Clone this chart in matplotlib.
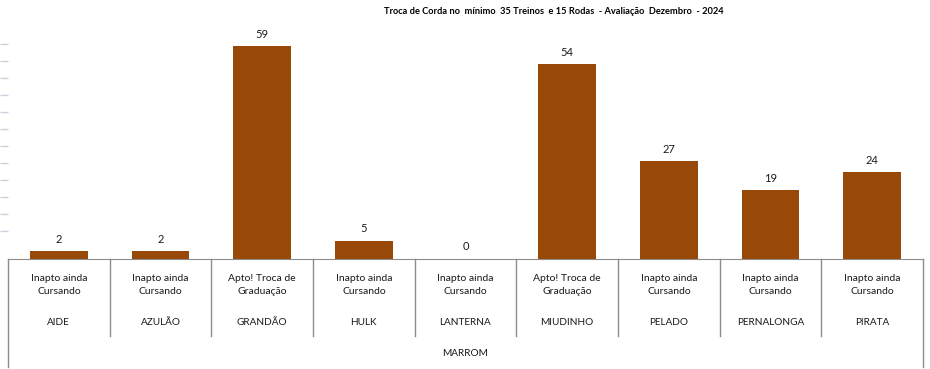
import numpy as np
import matplotlib
matplotlib.use("Agg")
import matplotlib.pyplot as plt

plt.rcParams['font.family'] = ['Lato', 'DejaVu Sans']

# dados
nomes = ["AIDE", "AZULÃO", "GRANDÃO", "HULK", "LANTERNA",
         "MIUDINHO", "PELADO", "PERNALONGA", "PIRATA"]
status = ["Inapto ainda\nCursando", "Inapto ainda\nCursando", "Apto! Troca de\nGraduação",
          "Inapto ainda\nCursando", "Inapto ainda\nCursando", "Apto! Troca de\nGraduação",
          "Inapto ainda\nCursando", "Inapto ainda\nCursando", "Inapto ainda\nCursando"]
treinos = [2, 2, 59, 5, 0, 54, 27, 19, 24]
grupo = "MARROM"
titulo = "Troca de Corda no  mínimo  35 Treinos  e 15 Rodas  - Avaliação  Dezembro  - 2024"

W, H = 930, 369
fig = plt.figure(figsize=(W / 100, H / 100), dpi=100)

base_px = 258.5
px_per_unit = 3.6
ymax = 60
ax_h = ymax * px_per_unit
ax = fig.add_axes([8 / W, (H - base_px) / H, (923 - 8) / W, ax_h / H])

cor_barra = "#984807"
cor_linha = "#8c8c8c"
cor_texto = "#1a1a1a"

x = np.arange(len(nomes))
barras = ax.bar(x, treinos, width=0.57, color=cor_barra)
ax.set_xlim(-0.5, len(nomes) - 0.5)
ax.set_ylim(0, ymax)

for b, v in zip(barras, treinos):
    ax.annotate(str(v), (b.get_x() + b.get_width() / 2, v), xytext=(0, 12),
                textcoords="offset pixels", ha="center", va="center",
                fontsize=8, color=cor_texto)

# eixo y oculto: so os tracinhos
yt = [(base_px - (44.3 + 17 * k)) / px_per_unit for k in range(12)]
ax.set_yticks(yt)
ax.set_yticklabels([])
ax.tick_params(axis="y", length=5.8, width=1, color="#c9d3df", direction="out")
ax.tick_params(axis="x", bottom=False, labelbottom=False)
for s in ["left", "right", "top"]:
    ax.spines[s].set_visible(False)
ax.spines["bottom"].set_color(cor_linha)

# caixa de categorias
tr = ax.get_xaxis_transform()
div_y = -77 / ax_h
out_y = -108 / ax_h
for i in range(1, len(nomes)):
    ax.plot([i - 0.5, i - 0.5], [0, div_y], transform=tr, color=cor_linha,
            lw=1, clip_on=False)
for xe in [-0.5, len(nomes) - 0.5]:
    ax.plot([xe, xe], [0, out_y], transform=tr, color=cor_linha, lw=1, clip_on=False)

for i in range(len(nomes)):
    ax.annotate(status[i], (i, 0), xycoords=tr, xytext=(0, -26.5),
                textcoords="offset pixels", ha="center", va="center",
                fontsize=7.5, color=cor_texto, linespacing=1.45)
    ax.annotate(nomes[i], (i, 0), xycoords=tr, xytext=(0, -64),
                textcoords="offset pixels", ha="center", va="center",
                fontsize=7.2, color=cor_texto)

ax.annotate(grupo, ((len(nomes) - 1) / 2, 0), xycoords=tr, xytext=(0, -94.5),
            textcoords="offset pixels", ha="center", va="center",
            fontsize=7.2, color=cor_texto)

fig.text(554 / W, 1 - 12 / H, titulo, ha="center", va="center",
         fontsize=6.7, fontweight="bold", color="#000000")

fig.savefig("out.png", dpi=100)
